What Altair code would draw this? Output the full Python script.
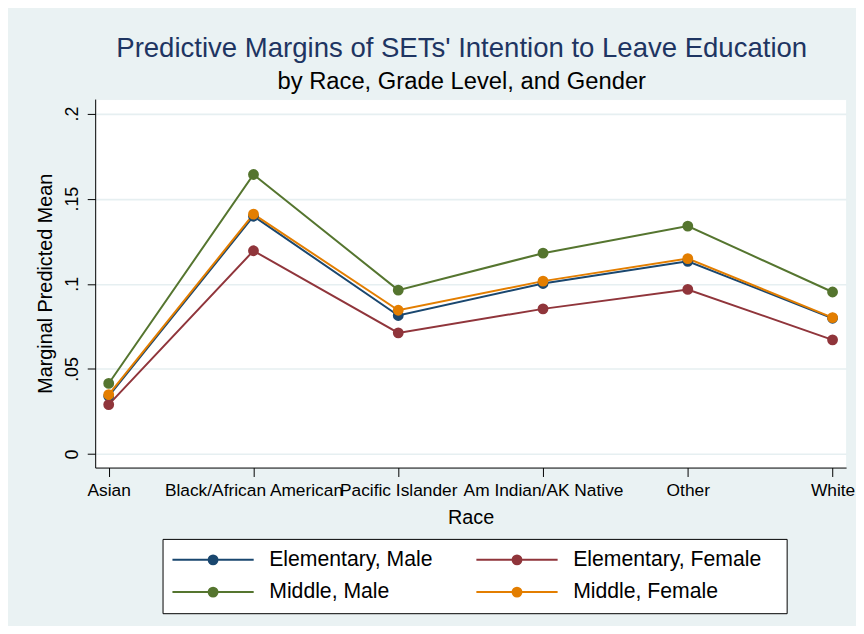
import altair as alt
import pandas as pd

# ---- data ----
races = ["Asian", "Black/African American", "Pacific Islander",
         "Am Indian/AK Native", "Other", "White"]
series_names = ["Elementary, Male", "Elementary, Female",
                "Middle, Male", "Middle, Female"]
elementary_male = [0.0340, 0.1397, 0.0814, 0.1002, 0.1132, 0.0798]
elementary_female = [0.0291, 0.1194, 0.0712, 0.0853, 0.0967, 0.0671]
middle_male = [0.0415, 0.1642, 0.0963, 0.1180, 0.1339, 0.0952]
middle_female = [0.0349, 0.1409, 0.0845, 0.1016, 0.1148, 0.0802]
series_colors = ["#1a476f", "#90353b", "#55752f", "#e37e00"]
y_ticks = [0, 0.05, 0.1, 0.15, 0.2]

values_by_series = [elementary_male, elementary_female, middle_male, middle_female]
rows = []
for s, vals in zip(series_names, values_by_series):
    for i, (r, v) in enumerate(zip(races, vals)):
        rows.append({"race": r, "idx": i, "series": s, "value": v})
df = pd.DataFrame(rows)

FONT = "Liberation Sans"
BG = "#EAF2F3"

legend_path = "M-8.2,0L8.2,0M-0.9,0A0.9,0.9,0,1,1,0.9,0A0.9,0.9,0,1,1,-0.9,0Z"

legend = alt.Legend(
    title=None, orient="none", legendX=68, legendY=444,
    direction="horizontal", columns=2,
    symbolType=legend_path, symbolSize=100, symbolStrokeWidth=2,
    symbolOffset=30.3, labelOffset=46,
    labelFont=FONT, labelFontSize=21.4, labelColor="black", labelLimit=400,
    labelExpr="datum.label + '\u2800'",
    padding=10, strokeColor="black", fillColor="white",
    columnPadding=24.8, rowPadding=10, symbolOpacity=1,
)

cscale = alt.Scale(domain=series_names, range=series_colors)

x = alt.X(
    "race:N", sort=races,
    scale=alt.Scale(type="point", padding=0.0935),
    axis=alt.Axis(
        title="Race", labelAngle=0, labelFont=FONT, labelFontSize=17.5,
        labelColor="black", labelPadding=5, labelOverlap=False, labelLimit=400,
        tickSize=9, tickColor="black", tickWidth=1,
        domainColor="black", domainWidth=1, grid=False,
        titleFont=FONT, titleFontSize=20, titleFontWeight="normal",
        titleColor="black", titlePadding=9,
    ),
)
y = alt.Y(
    "value:Q",
    scale=alt.Scale(domain=[-0.0079, 0.2085], nice=False, zero=False),
    axis=alt.Axis(
        title="Marginal Predicted Mean", values=y_ticks,
        labelExpr="datum.value == 0 ? '0' : replace(format(datum.value, '.2~f'), '0.', '.')",
        labelAngle=270, labelAlign="center", labelBaseline="bottom",
        labelFont=FONT, labelFontSize=18, labelColor="black", labelPadding=6,
        tickSize=8, tickColor="black", tickWidth=1,
        domainColor="black", domainWidth=1,
        grid=True, gridColor="#E6EFF1", gridWidth=1.6,
        titleFont=FONT, titleFontSize=20, titleFontWeight="normal",
        titleColor="black", titlePadding=8,
    ),
)

base = alt.Chart(df)
lines = base.mark_line(strokeWidth=2).encode(
    x=x, y=y,
    stroke=alt.Stroke("series:N", scale=cscale, legend=legend),
    order=alt.Order("idx:Q"),
)
points = base.mark_point(shape="circle", size=80, strokeWidth=2,
                         opacity=1, fillOpacity=1).encode(
    x=x, y=y,
    stroke=alt.Stroke("series:N", scale=cscale, legend=legend),
    fill=alt.Fill("series:N", scale=cscale, legend=legend),
)

chart = alt.layer(lines, points).properties(
    width=758, height=372,
    autosize="none",
    padding={"left": 88, "top": 89, "right": 10, "bottom": 157},
    background=BG,
    title=alt.TitleParams(
        text="Predictive Margins of SETs' Intention to Leave Education",
        subtitle="by Race, Grade Level, and Gender",
        font=FONT, fontSize=27.8, fontWeight="normal", color="#1e3562",
        subtitleFont=FONT, subtitleFontSize=24, subtitleColor="black",
        subtitlePadding=8, anchor="middle", frame="group", offset=5, dx=-9,
    ),
).configure_view(fill="white", stroke=BG)

chart.save("out.html", embed_options={"renderer": "svg", "actions": False})
